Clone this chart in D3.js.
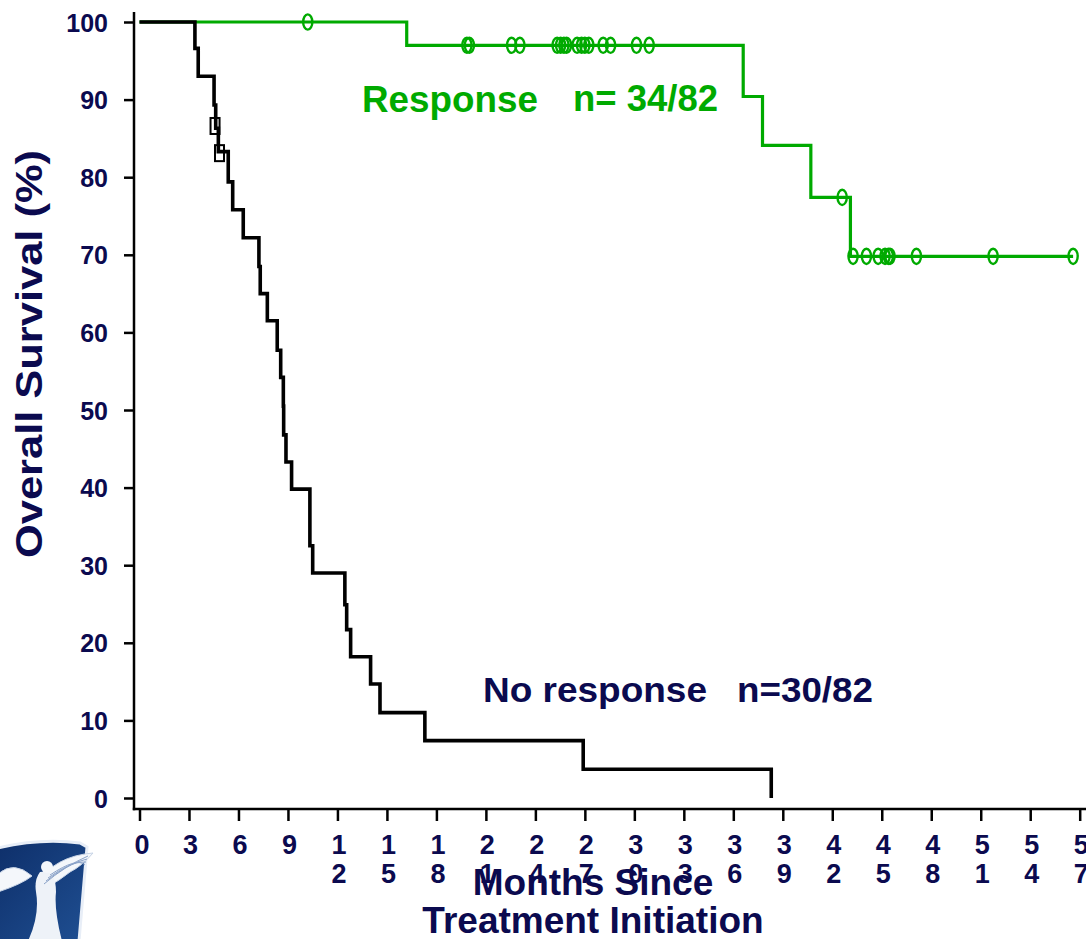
<!DOCTYPE html>
<html>
<head>
<meta charset="utf-8">
<script src="https://cdn.jsdelivr.net/npm/d3@7"></script>
<style>
  html, body { margin: 0; padding: 0; background: #ffffff; }
  svg { display: block; }
  text { font-family: "Liberation Sans", Arial, Helvetica, sans-serif; font-weight: bold; }
</style>
</head>
<body>
<svg id="chart" width="1086" height="939"></svg>
<script>
// ---------------- DATA ----------------
const yTicks = [0, 10, 20, 30, 40, 50, 60, 70, 80, 90, 100];
const xTicks = [0, 3, 6, 9, 12, 15, 18, 21, 24, 27, 30, 33, 36, 39, 42, 45, 48, 51, 54, 57];

// No response: Kaplan-Meier steps [months, survival %]
const noRespTimes    = [0, 3.36, 3.56, 4.52, 4.62, 4.78, 5.38, 5.65, 6.29, 7.24, 7.32, 7.75, 8.35, 8.56, 8.72, 8.74, 8.88, 9.22, 10.33, 10.5, 12.45, 12.56, 12.8, 14.01, 14.58, 17.3, 26.9, 38.3];
const noRespSurvival = [100, 96.6, 93.0, 89.3, 86.3, 83.3, 79.4, 75.8, 72.2, 68.5, 65.0, 61.5, 57.7, 54.2, 50.5, 46.8, 43.3, 39.8, 32.5, 29.0, 24.9, 21.7, 18.2, 14.7, 11.0, 7.4, 3.7, 0];
const noRespCensorTimes    = [4.58, 4.85];
const noRespCensorSurvival = [86.6, 83.1];

// Response: Kaplan-Meier steps
const respTimes    = [0, 16.2, 36.6, 37.77, 40.7, 43.1, 56.6];
const respSurvival = [100, 97.0, 90.4, 84.1, 77.4, 69.8, 69.8];
const respCensorTimes    = [10.2, 19.85, 20.0, 22.56, 23.06, 25.32, 25.53, 25.73, 25.89, 26.53, 26.8, 27.0, 27.24, 28.11, 28.56, 30.13, 30.9, 42.6, 43.26, 44.07, 44.78, 45.2, 45.4, 45.5, 47.1, 51.75, 56.6];
const respCensorSurvival = [100, 97.0, 97.0, 97.0, 97.0, 97.0, 97.0, 97.0, 97.0, 97.0, 97.0, 97.0, 97.0, 97.0, 97.0, 97.0, 97.0, 77.4, 69.8, 69.8, 69.8, 69.8, 69.8, 69.8, 69.8, 69.8, 69.8];

const labels = {
  yTitle: "Overall Survival (%)",
  xTitle1: "Months Since",
  xTitle2: "Treatment Initiation",
  resp: "Response",
  respN: "n= 34/82",
  noResp: "No response",
  noRespN: "n=30/82"
};

// ---------------- STYLE ----------------
const NAVY = "#0b0a4f";
const GREEN = "#00aa00";

const svg = d3.select("#chart");
const x = d3.scaleLinear().domain([0, 57]).range([139.5, 1079.7]);
const y = d3.scaleLinear().domain([0, 100]).range([798, 22]);

const axisX = 134;   // position of y-axis line
const axisY = 809;   // position of x-axis line

// ---------------- LOGO (decorative) ----------------
const defs = svg.append("defs");
const grad = defs.append("linearGradient").attr("id", "shieldGrad")
  .attr("x1", "0").attr("y1", "0").attr("x2", "1").attr("y2", "1");
grad.append("stop").attr("offset", "0").attr("stop-color", "#0e2f6a");
grad.append("stop").attr("offset", "1").attr("stop-color", "#1f4f92");
const logo = svg.append("g");
logo.append("path")
  .attr("d", "M-2,848 Q40,838 80,843 L87,847 L79,941 L-2,941 Z")
  .attr("fill", "url(#shieldGrad)").attr("stroke", "#e8eef7").attr("stroke-width", 3);
logo.append("path")
  .attr("d", "M36,884 Q55,856 93,853 Q82,866 70,872 Q60,880 46,888 Z")
  .attr("fill", "#f4f7fb").attr("stroke", "#c8d4e6").attr("stroke-width", 1);
logo.append("path")
  .attr("d", "M-2,874 Q14,860 32,876 Q22,884 -2,892 Z")
  .attr("fill", "#f4f7fb").attr("stroke", "#c8d4e6").attr("stroke-width", 1);
logo.append("path")
  .attr("d", "M40,872 Q56,868 56,892 Q54,910 62,941 L28,941 Q40,915 36,892 Q34,880 40,872 Z")
  .attr("fill", "#eef2f8");
logo.append("circle").attr("cx", 47).attr("cy", 867).attr("r", 6).attr("fill", "#f4f7fb");
logo.selectAll("path.feather").data([0, 1, 2, 3]).enter().append("path")
  .attr("d", d => `M${44 + d * 2},${884 - d * 3} Q${65 + d * 4},${866 - d * 3} ${88 - d},${856 + d * 3}`)
  .attr("fill", "none").attr("stroke", "#8aa2c8").attr("stroke-width", 1);

// ---------------- AXES ----------------
// Y axis
const yAxis = d3.axisLeft(y).tickValues(yTicks).tickSize(10).tickPadding(16);
const gy = svg.append("g").attr("transform", `translate(${axisX},0)`).call(yAxis);
gy.select(".domain").remove();
gy.selectAll(".tick line").attr("stroke", "#000").attr("stroke-width", 2.5);
gy.selectAll(".tick text")
  .attr("fill", NAVY).style("font-size", "25px")
  .attr("dy", "0.36em");

// X axis
const xAxis = d3.axisBottom(x).tickValues(xTicks).tickSize(12).tickFormat("");
const gx = svg.append("g").attr("transform", `translate(0,${axisY})`).call(xAxis);
gx.select(".domain").remove();
gx.selectAll(".tick line").attr("stroke", "#000").attr("stroke-width", 2.5);
gx.selectAll(".tick").each(function(d) {
  const digits = String(d).split("");
  const t = d3.select(this).append("text")
    .attr("fill", NAVY).style("font-size", "27px").attr("text-anchor", "middle");
  digits.forEach((c, i) => {
    t.append("tspan").attr("x", d === 0 ? 2 : 1).attr("y", 45 + i * 29).text(c);
  });
});

// Axis lines
svg.append("line").attr("x1", axisX).attr("x2", axisX).attr("y1", 12).attr("y2", axisY + 1.2)
  .attr("stroke", "#000").attr("stroke-width", 2.5);
svg.append("line").attr("x1", axisX - 1.2).attr("x2", 1086).attr("y1", axisY).attr("y2", axisY)
  .attr("stroke", "#000").attr("stroke-width", 2.5);

// ---------------- CURVES ----------------
const step = d3.line().x(d => x(d[0])).y(d => y(d[1])).curve(d3.curveStepAfter);
const respData = respTimes.map((t, i) => [t, respSurvival[i]]);
const noRespData = noRespTimes.map((t, i) => [t, noRespSurvival[i]]);

svg.append("path").datum(respData).attr("d", step)
  .attr("fill", "none").attr("stroke", GREEN).attr("stroke-width", 3.2).attr("stroke-linejoin", "miter");

svg.selectAll("ellipse.cens").data(respCensorTimes.map((t, i) => [t, respCensorSurvival[i]]))
  .enter().append("ellipse").attr("class", "cens")
  .attr("cx", d => x(d[0])).attr("cy", d => y(d[1]))
  .attr("rx", 4.6).attr("ry", 7.6)
  .attr("fill", "none").attr("stroke", GREEN).attr("stroke-width", 2.4);

svg.append("path").datum(noRespData).attr("d", step)
  .attr("fill", "none").attr("stroke", "#000").attr("stroke-width", 3.6).attr("stroke-linejoin", "miter");

svg.selectAll("rect.cens").data(noRespCensorTimes.map((t, i) => [t, noRespCensorSurvival[i]]))
  .enter().append("rect").attr("class", "cens")
  .attr("x", d => x(d[0]) - 4.5).attr("y", d => y(d[1]) - 8)
  .attr("width", 9).attr("height", 16)
  .attr("fill", "none").attr("stroke", "#000").attr("stroke-width", 2);

// ---------------- TEXT ----------------
svg.append("text").attr("x", 362).attr("y", 112).attr("fill", GREEN)
  .style("font-size", "36px").attr("textLength", 176).attr("lengthAdjust", "spacingAndGlyphs").text(labels.resp);
svg.append("text").attr("x", 573).attr("y", 111).attr("fill", GREEN)
  .style("font-size", "36px").attr("textLength", 145).attr("lengthAdjust", "spacingAndGlyphs").text(labels.respN);
svg.append("text").attr("x", 483).attr("y", 702).attr("fill", NAVY)
  .style("font-size", "35px").attr("textLength", 224).attr("lengthAdjust", "spacingAndGlyphs").text(labels.noResp);
svg.append("text").attr("x", 737).attr("y", 702).attr("fill", NAVY)
  .style("font-size", "35px").attr("textLength", 136).attr("lengthAdjust", "spacingAndGlyphs").text(labels.noRespN);

svg.append("text").attr("transform", "translate(42,354) rotate(-90)")
  .attr("text-anchor", "middle").attr("fill", NAVY)
  .style("font-size", "37px").attr("textLength", 408).attr("lengthAdjust", "spacingAndGlyphs")
  .text(labels.yTitle);

svg.append("text").attr("x", 593).attr("y", 895).attr("text-anchor", "middle").attr("fill", NAVY)
  .style("font-size", "37px").text(labels.xTitle1);
svg.append("text").attr("x", 593).attr("y", 933).attr("text-anchor", "middle").attr("fill", NAVY)
  .style("font-size", "37px").text(labels.xTitle2);
</script>
</body>
</html>
